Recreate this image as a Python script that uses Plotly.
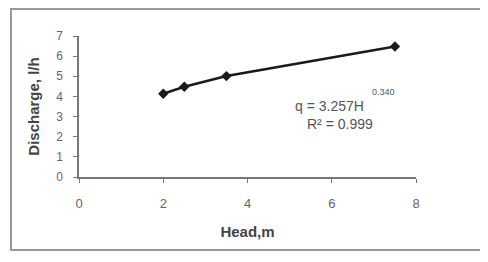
import plotly.graph_objects as go

head_m = [2.0, 2.5, 3.5, 7.5]
discharge_lh = [4.13, 4.48, 5.01, 6.48]
x_ticks = [0, 2, 4, 6, 8]
y_ticks = [0, 1, 2, 3, 4, 5, 6, 7]
eq_text = "q = 3.257H"
eq_exp = "0.340"
r2_text = "R² = 0.999"

# page body has an 8px default margin, so the figure is offset by 8px
OFF = 8
W, H = 488, 262
ml, mt = 79 - OFF, 36 - OFF
pw, ph = 337, 141
mr = W - ml - pw
mb = H - mt - ph

def px_to_paper_x(px):
    return (px - OFF - ml) / pw

def py_to_paper_y(py):
    return (mt + ph - (py - OFF)) / ph

fig = go.Figure()
fig.add_trace(go.Scatter(
    x=head_m, y=discharge_lh, mode="lines+markers",
    line=dict(color="#1a1a1a", width=2.5),
    marker=dict(symbol="diamond", size=8, color="#1a1a1a"),
    showlegend=False, hoverinfo="skip",
))

font_family = "Liberation Sans, Arial, sans-serif"
fig.update_layout(
    width=W, height=H,
    margin=dict(l=ml, r=mr, t=mt, b=mb, pad=0),
    paper_bgcolor="white", plot_bgcolor="white",
    font=dict(family=font_family, color="#555"),
    xaxis=dict(
        range=[0, 8], tickvals=x_ticks, showgrid=False, zeroline=False,
        showline=True, linecolor="#777", linewidth=1.5,
        ticks="outside", ticklen=4, tickcolor="#777",
        tickfont=dict(size=13, color="#666"), ticklabelstandoff=10,
        title=dict(text="<b>Head,m</b>", font=dict(size=15, color="#444"), standoff=16),
    ),
    yaxis=dict(
        range=[0, 7], tickvals=y_ticks, showgrid=False, zeroline=False,
        showline=True, linecolor="#777", linewidth=1.5,
        ticks="outside", ticklen=4, tickcolor="#777",
        tickfont=dict(size=12, color="#666"), ticklabelstandoff=8,
        title=dict(text="<b>Discharge, l/h</b>", font=dict(size=15, color="#444"), standoff=13),
    ),
)

fig.add_annotation(x=5.08, y=3.52, xref="x", yref="y", text=eq_text, showarrow=False,
                   xanchor="left", yanchor="middle", font=dict(size=14, color="#555"))
fig.add_annotation(x=6.91, y=4.22, xref="x", yref="y", text=eq_exp, showarrow=False,
                   xanchor="left", yanchor="middle", font=dict(size=9, color="#555"))
fig.add_annotation(x=5.37, y=2.63, xref="x", yref="y", text=r2_text, showarrow=False,
                   xanchor="left", yanchor="middle", font=dict(size=14, color="#555"))

fig.add_shape(type="rect", xref="paper", yref="paper",
              x0=px_to_paper_x(11), x1=px_to_paper_x(492),
              y0=py_to_paper_y(250), y1=py_to_paper_y(9),
              line=dict(color="#999", width=2), fillcolor="rgba(0,0,0,0)", layer="below")

fig.write_html("out.html")
